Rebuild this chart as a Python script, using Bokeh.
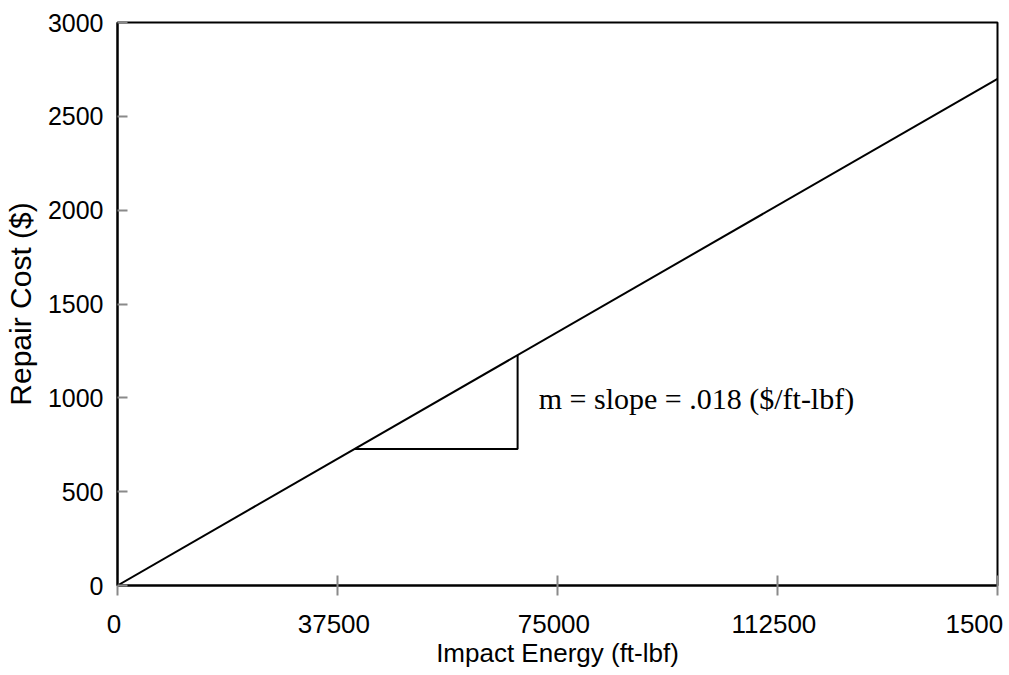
from bokeh.plotting import figure
from bokeh.models import Range1d, FixedTicker, Label
from bokeh.embed import file_html
from bokeh.resources import INLINE

# Data
energy = [0, 150000]
cost = [0, 2700]
tri_x = [40400, 68200, 68200]
tri_y = [727, 727, 1228]
x_ticks = [0, 37500, 75000, 112500, 150000]
x_tick_labels = ["0", "37500", "75000", "112500", "1500"]
y_ticks = [0, 500, 1000, 1500, 2000, 2500, 3000]
annot_x = 71800
annot_y = 996
annot_text = "m = slope = .018 ($/ft-lbf)"

FONT = "Liberation Sans"
NBSP = "\u00a0"

p = figure(frame_width=880, frame_height=563,
           x_range=Range1d(0, 150000), y_range=Range1d(0, 3000),
           output_backend="svg", toolbar_location=None,
           min_border_left=116, min_border_right=13,
           min_border_top=22, min_border_bottom=90)
p.background_fill_color = "white"
p.border_fill_color = "white"
p.grid.visible = False
p.outline_line_color = "black"
p.outline_line_width = 2

# line and slope triangle
p.line(energy, cost, line_color="black", line_width=2)
p.line(tri_x, tri_y, line_color="black", line_width=2)

# x axis
xa = p.xaxis[0]
xa.ticker = FixedTicker(ticks=x_ticks)
xa.minor_tick_line_color = None
xa.major_tick_in = 10
xa.major_tick_out = 10
xa.major_tick_line_color = "#8a8a8a"
xa.major_tick_line_width = 2
xa.axis_line_color = "black"
xa.axis_line_width = 2
# labels sit slightly left of their ticks: trailing no-break space
xa.major_label_overrides = {t: lab + NBSP for t, lab in zip(x_ticks, x_tick_labels)}
xa.major_label_text_font = FONT
xa.major_label_text_font_size = "26px"
xa.major_label_text_color = "black"
xa.major_label_standoff = 13
xa.axis_label = "Impact Energy (ft-lbf)"
xa.axis_label_text_font = FONT
xa.axis_label_text_font_size = "26px"
xa.axis_label_text_font_style = "normal"
xa.axis_label_text_color = "black"
xa.axis_label_standoff = -4

# y axis
ya = p.yaxis[0]
ya.ticker = FixedTicker(ticks=y_ticks)
ya.minor_tick_line_color = None
ya.major_tick_in = 10
ya.major_tick_out = 0
ya.major_tick_line_color = "#8a8a8a"
ya.major_tick_line_width = 2
ya.axis_line_color = "black"
ya.axis_line_width = 2
ya.major_label_text_font = FONT
ya.major_label_text_font_size = "25px"
ya.major_label_text_color = "black"
ya.major_label_standoff = 14
ya.axis_label = "Repair Cost ($)"
ya.axis_label_text_font = FONT
ya.axis_label_text_font_size = "30px"
ya.axis_label_text_font_style = "normal"
ya.axis_label_text_color = "black"
ya.axis_label_standoff = 8

p.add_layout(Label(x=annot_x, y=annot_y, text=annot_text,
                   text_font="Liberation Serif", text_font_size="30px",
                   text_color="black", text_baseline="middle"))

open("out.html", "w").write(file_html(p, INLINE))
